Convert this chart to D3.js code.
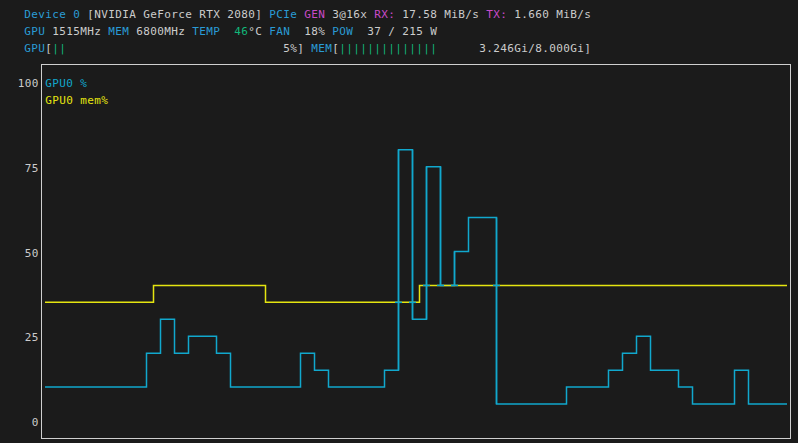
<!DOCTYPE html>
<html><head><meta charset="utf-8">
<script src="https://cdn.jsdelivr.net/npm/d3@7"></script>
<style>
html,body{margin:0;padding:0;background:#1b1b1b;}
svg{display:block;}
text{font-family:"DejaVu Sans Mono",monospace;font-size:11px;}
</style></head>
<body>
<svg id="chart" width="798" height="443"></svg>
<script>
// ---- data ----
const yTicks = [0, 25, 50, 75, 100];
const seriesNames = ["GPU0 %", "GPU0 mem%"];
// GPU utilisation, one value per sample step
const gpuUtil = [10,10,10,10,10,10,10,20,30,20,25,25,20,10,10,10,10,10,20,15,10,10,10,10,15,80,30,75,40,50,60,60,5,5,5,5,5,10,10,10,15,20,25,15,15,10,5,5,5,15,5,5,5];
// memory utilisation, sampled half a step later
const memUtil = [35,35,35,35,35,35,35,35,40,40,40,40,40,40,40,40,35,35,35,35,35,35,35,35,35,35,35,40,40,40,40,40,40,40,40,40,40,40,40,40,40,40,40,40,40,40,40,40,40,40,40,40,40,40];
const memOffset = -0.5;
const headerRows = [
  [["Device 0","blue",0],["[NVIDIA GeForce RTX 2080]","white",9],["PCIe","blue",35],["GEN","mag",40],["3@16x","white",44],["RX:","mag",50],["17.58 MiB/s","white",54],["TX:","mag",66],["1.660 MiB/s","white",70]],
  [["GPU","blue",0],["1515MHz","white",4],["MEM","blue",12],["6800MHz","white",16],["TEMP","blue",24],["46","green",30],["°C","white",32],["FAN","blue",35],["18%","white",40],["POW","blue",44],["37 / 215 W","white",49]],
  [["GPU","blue",0],["[","white",3],["||","green",4],["5%]","white",37],["MEM","blue",41],["[","white",44],["||||||||||||||","green",45],["3.246Gi/8.000Gi]","white",65]]
];

// ---- style ----
const colors = {blue:"#2a9bd6", white:"#cccccc", mag:"#c84ac8", green:"#11b77a"};
const lineBlue = "#11a8cd", lineYellow = "#e5e510";
const cell = 7;

const svg = d3.select("#chart");
svg.append("rect").attr("width",798).attr("height",443).attr("fill","#1b1b1b");

function charText(g, str, x0, y, color){
  const xs = Array.from(str).map((c,i)=> x0 + i*cell + cell/2);
  g.append("text").attr("x", xs.join(" ")).attr("y", y)
    .attr("text-anchor","middle").attr("fill", color).text(str);
}

// header
const hg = svg.append("g");
headerRows.forEach((row, r) => {
  row.forEach(([s, c, col]) => charText(hg, s, 24 + col*cell, 17.5 + r*17, colors[c]));
});

// scales
const n = gpuUtil.length;
const x = d3.scaleLinear().domain([-0.25, n - 0.25]).range([45, 787]);
const y = d3.scaleLinear().domain([0, 100]).range([421, 82]);
const [t0, t1] = x.domain();

// frame
svg.append("rect").attr("x",41.5).attr("y",64.5).attr("width",749).attr("height",374)
  .attr("fill","none").attr("stroke","#cfcfcf").attr("stroke-width",1);

// y tick labels
const ag = svg.append("g");
yTicks.forEach(t => {
  const s = String(t);
  charText(ag, s, 38.5 - s.length*cell, y(t) + 5, colors.white);
});

// step series
function stepPoints(vals, offset){
  const pts = [];
  vals.forEach((v,i)=>{
    const a = i === 0 ? t0 : Math.max(i + offset, t0);
    const b = i === vals.length - 1 ? t1 : Math.min(i + 1 + offset, t1);
    if (b > a){ pts.push([a, v]); pts.push([b, v]); }
  });
  return pts;
}
const line = d3.line().x(d=>x(d[0])).y(d=>y(d[1]));
svg.append("path").attr("d", line(stepPoints(gpuUtil, 0)))
  .attr("fill","none").attr("stroke",lineBlue).attr("stroke-width",1.5);
svg.append("path").attr("d", line(stepPoints(memUtil, memOffset)))
  .attr("fill","none").attr("stroke",lineYellow).attr("stroke-width",1.5);

// small blue marks where GPU transitions cross the memory line
function memAt(t){ return memUtil[Math.floor(t - memOffset)]; }
for (let k = 1; k < n; k++){
  const a = gpuUtil[k-1], b = gpuUtil[k];
  if (a === b) continue;
  const m = memAt(k);
  if (m >= Math.min(a,b) && m <= Math.max(a,b)){
    svg.append("line").attr("x1", x(k)-3.5).attr("x2", x(k)+3.5)
      .attr("y1", y(m)).attr("y2", y(m)).attr("stroke", lineBlue).attr("stroke-width",1.5);
    svg.append("line").attr("x1", x(k)).attr("x2", x(k))
      .attr("y1", y(Math.min(a,b))).attr("y2", y(Math.max(a,b)))
      .attr("stroke", lineBlue).attr("stroke-width",1.5);
  }
}

// legend
const lg = svg.append("g");
charText(lg, seriesNames[0], 45, 86.5, lineBlue);
charText(lg, seriesNames[1], 45, 103.5, lineYellow);
</script>
</body></html>
